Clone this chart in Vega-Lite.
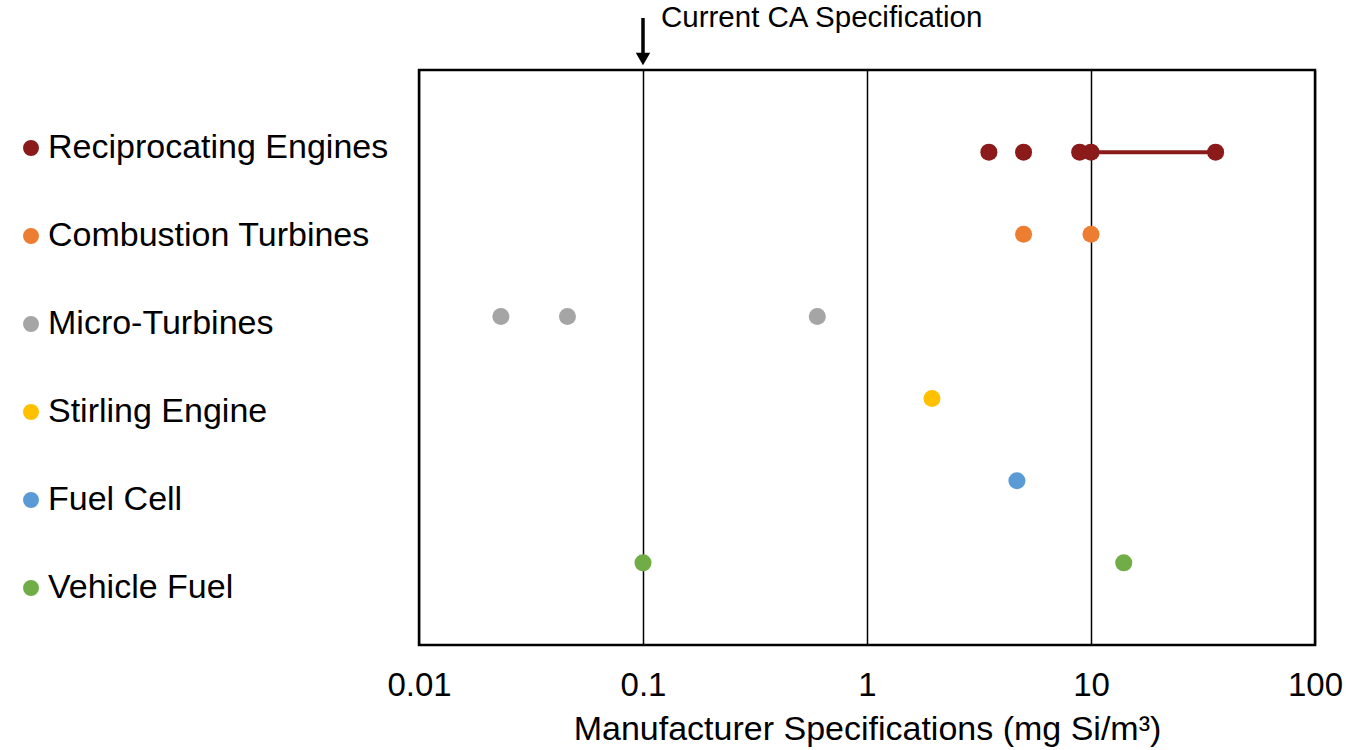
{
  "$schema": "https://vega.github.io/schema/vega-lite/v6.json",
  "width": 896,
  "height": 575,
  "autosize": {"type": "none"},
  "padding": {"left": 419, "top": 70, "right": 31, "bottom": 105},
  "background": "white",
  "config": {
    "font": "Liberation Sans",
    "view": {"stroke": "#000000", "strokeWidth": 2.5}
  },
  "datasets": {
    "specs": [
      {"type": "Reciprocating Engines", "value": 3.5},
      {"type": "Reciprocating Engines", "value": 5},
      {"type": "Reciprocating Engines", "value": 8.9},
      {"type": "Reciprocating Engines", "value": 10},
      {"type": "Reciprocating Engines", "value": 36},
      {"type": "Combustion Turbines", "value": 5},
      {"type": "Combustion Turbines", "value": 10},
      {"type": "Micro-Turbines", "value": 0.0232},
      {"type": "Micro-Turbines", "value": 0.046},
      {"type": "Micro-Turbines", "value": 0.6},
      {"type": "Stirling Engine", "value": 1.95},
      {"type": "Fuel Cell", "value": 4.67},
      {"type": "Vehicle Fuel", "value": 0.1},
      {"type": "Vehicle Fuel", "value": 14}
    ],
    "ranges": [
      {"type": "Reciprocating Engines", "low": 10, "high": 36}
    ],
    "annotation": [
      {"label": "Current CA Specification", "value": 0.1}
    ]
  },
  "resolve": {"scale": {"y": "independent"}},
  "layer": [
    {
      "layer": [
        {
          "data": {"name": "ranges"},
          "mark": {"type": "rule", "strokeWidth": 4, "color": "#8B1A1A"},
          "encoding": {
            "x": {
              "field": "low", "type": "quantitative",
              "scale": {"type": "log", "domain": [0.01, 100], "nice": false},
              "axis": {
                "values": [0.01, 0.1, 1, 10, 100],
                "format": "~g",
                "grid": true, "gridColor": "#000000", "gridWidth": 1.5, "gridOpacity": 1,
                "domain": false, "ticks": false, "tickSize": 0,
                "labelFlush": false, "labelOverlap": false,
                "labelFontSize": 33, "labelColor": "#000000", "labelPadding": 24,
                "title": "Manufacturer Specifications (mg Si/m³)",
                "titleFontSize": 34, "titleFontWeight": "normal", "titleColor": "#000000", "titlePadding": 10
              }
            },
            "x2": {"field": "high"},
            "y": {
              "field": "type", "type": "nominal",
              "scale": {"type": "point", "padding": 1, "domain": ["Reciprocating Engines", "Combustion Turbines", "Micro-Turbines", "Stirling Engine", "Fuel Cell", "Vehicle Fuel"]},
              "axis": null
            }
          }
        },
        {
          "data": {"name": "specs"},
          "mark": {"type": "circle", "size": 290, "opacity": 1},
          "encoding": {
            "x": {"field": "value", "type": "quantitative"},
            "y": {"field": "type", "type": "nominal", "axis": null},
            "color": {
              "field": "type", "type": "nominal",
              "scale": {
                "domain": ["Reciprocating Engines", "Combustion Turbines", "Micro-Turbines", "Stirling Engine", "Fuel Cell", "Vehicle Fuel"],
                "range": ["#8B1A1A", "#ED7D31", "#A5A5A5", "#FFC000", "#5B9BD5", "#70AD47"]
              },
              "legend": {
                "orient": "none", "legendX": -405, "legendY": 61,
                "title": null,
                "labelFontSize": 34, "labelColor": "#000000", "labelOffset": 0, "labelLimit": 0,
                "symbolSize": 254, "symbolType": "circle", "symbolOpacity": 1, "symbolStrokeWidth": 0,
                "rowPadding": 54, "padding": 0
              }
            }
          }
        }
      ]
    },
    {
      "data": {"name": "annotation"},
      "layer": [
        {
          "mark": {"type": "rule", "strokeWidth": 3.5, "color": "#000000"},
          "encoding": {
            "x": {"field": "value", "type": "quantitative"},
            "y": {"datum": -0.633, "type": "quantitative", "scale": {"domain": [0, 7], "reverse": true, "nice": false, "zero": false}, "axis": null},
            "y2": {"datum": -0.17}
          }
        },
        {
          "mark": {"type": "point", "shape": "triangle-down", "filled": true, "size": 210, "color": "#000000", "opacity": 1},
          "encoding": {
            "x": {"field": "value", "type": "quantitative"},
            "y": {"datum": -0.134, "type": "quantitative"}
          }
        },
        {
          "mark": {"type": "text", "align": "left", "baseline": "alphabetic", "dx": 18, "fontSize": 29.5, "color": "#000000"},
          "encoding": {
            "x": {"field": "value", "type": "quantitative"},
            "y": {"datum": -0.523, "type": "quantitative"},
            "text": {"field": "label"}
          }
        }
      ]
    }
  ]
}
